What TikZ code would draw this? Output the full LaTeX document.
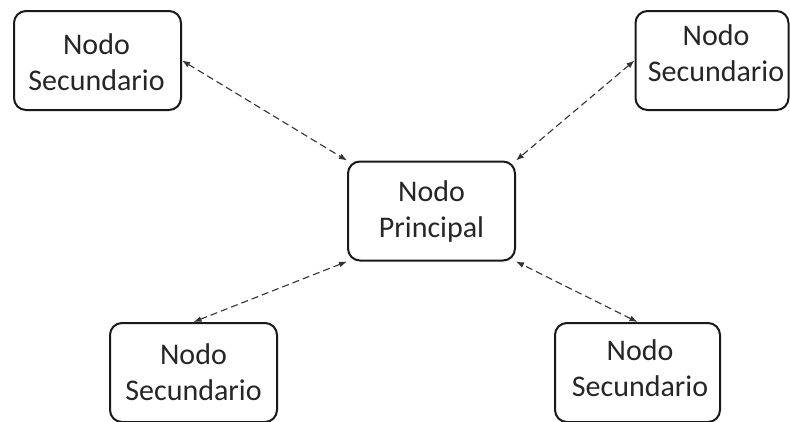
\documentclass[tikz,border=0pt]{standalone}
\usepackage{fontspec}
\setmainfont{Carlito}
\usetikzlibrary{arrows.meta}
\begin{document}
\begin{tikzpicture}[x=1pt,y=-1pt,
  box/.style={draw=black!90,line width=2pt,rounded corners=12pt,
    minimum width=#1,minimum height=99pt,inner sep=0pt,fill=white},
  box/.default=167pt,
  lbl/.style={font=\fontsize{30}{36}\selectfont,align=center,text=black!85,inner sep=0pt},
  link/.style={draw=black!80,line width=1.1pt,dash pattern=on 7pt off 4pt,
    {Latex[length=8pt,width=6pt]}-{Latex[length=8pt,width=6pt]}}
]
\useasboundingbox (0,0) rectangle (790,421);
\begin{scope}
\clip (0,0) rectangle (790,421);
% boxes
\node[box] (tl) at (97.5,60.5) {};
\node[box=153pt] (tr) at (712,60.5) {};
\node[box] (c) at (431.5,211) {};
\node[box] (bl) at (193.5,372.5) {};
\node[box=165pt] (br) at (637.5,372.5) {};
% texts
\node[lbl] (tlt) at (96.5,62) {Nodo\\Secundario};
\node[lbl] (trt) at (716,53) {Nodo\\Secundario};
\node[lbl] (ct) at (431.5,211) {Nodo\\Principal};
\node[lbl] (blt) at (193.5,372) {Nodo\\Secundario};
\node[lbl] (brt) at (640,368) {Nodo\\Secundario};
% connectors
\draw[link] (tl.east) -- (c.north west);
\draw[link] (tr.west) -- (c.north east);
\draw[link] (bl.north) -- (c.south west);
\draw[link] (br.north) -- (c.south east);
\end{scope}
\end{tikzpicture}
\end{document}
